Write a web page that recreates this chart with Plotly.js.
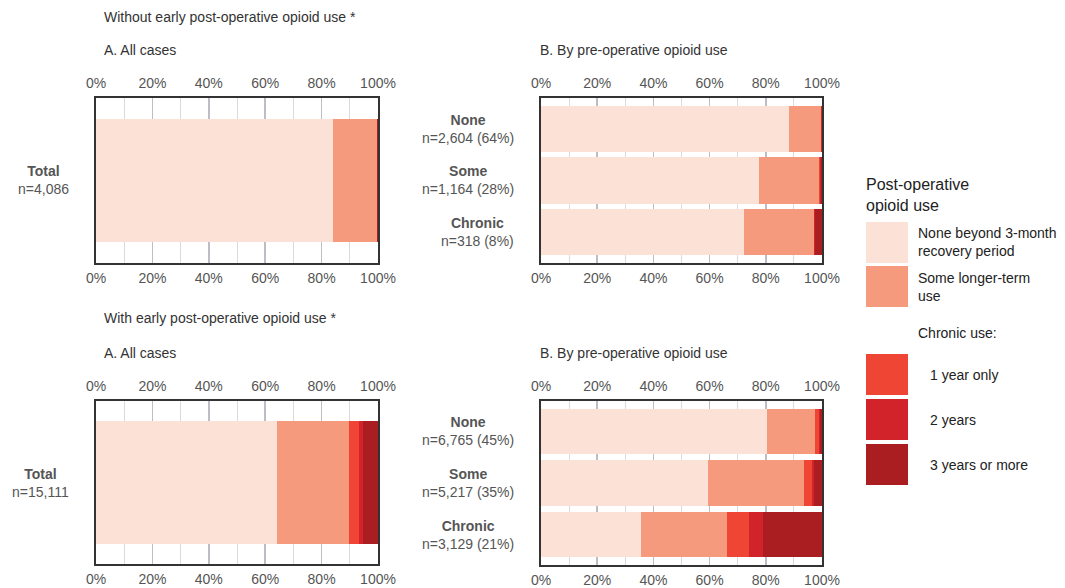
<!DOCTYPE html>
<html>
<head>
<meta charset="utf-8">
<script src="https://cdn.plot.ly/plotly-3.0.1.min.js"></script>
<style>
  html, body { margin: 0; padding: 0; background: #ffffff; }
  #chart { width: 1065px; height: 588px; }
</style>
</head>
<body>
<div id="chart"></div>
<script>
// Post-operative opioid use categories (stack order, left to right)
const categories = [
  'None beyond 3-month recovery period',
  'Some longer-term use',
  '1 year only',
  '2 years',
  '3 years or more'
];
const colors = ['#fce1d6', '#f59a7c', '#ef4535', '#d2222a', '#aa1e22'];

// Pre-operative opioid use groups
const groups = ['None', 'Some', 'Chronic'];

// Without early post-operative opioid use (percent of cases)
const withoutTotalN = '4,086';
const withoutTotal = [84.2, 15.3, 0.2, 0.1, 0.2];
const withoutGroupN = ['2,604 (64%)', '1,164 (28%)', '318 (8%)'];
const withoutNone = [88.3, 11.2, 0.3, 0.1, 0.1];
const withoutSome = [77.6, 21.3, 0.4, 0.2, 0.5];
const withoutChronic = [72.2, 24.8, 0.3, 0.3, 2.4];

// With early post-operative opioid use (percent of cases)
const withTotalN = '15,111';
const withTotal = [64.1, 25.6, 3.5, 1.5, 5.3];
const withGroupN = ['6,765 (45%)', '5,217 (35%)', '3,129 (21%)'];
const withNone = [80.4, 17.2, 1.2, 0.6, 0.6];
const withSome = [59.5, 34.0, 3.1, 0.7, 2.7];
const withChronic = [35.6, 30.6, 7.9, 4.9, 21.0];

const xTicks = [0, 20, 40, 60, 80, 100];
const xTickLabels = ['0%', '20%', '40%', '60%', '80%', '100%'];

// ---- page geometry (pixels) ----
const W = 1065, H = 588;
const px = x => x / W;
const py = y => 1 - y / H;
const FONT = 'Liberation Sans, Arial, sans-serif';

const panels = [
  { id: 1, x0: 96,  x1: 378, y0: 98,  y1: 263, cats: ['Total'], rows: [withoutTotal], yr: [-0.5, 0.5], bw: 0.75 },
  { id: 2, x0: 541, x1: 822, y0: 98,  y1: 263, cats: groups, rows: [withoutNone, withoutSome, withoutChronic], yr: [2.61, -0.61], bw: 0.9 },
  { id: 3, x0: 96,  x1: 378, y0: 401, y1: 564, cats: ['Total'], rows: [withTotal], yr: [-0.5, 0.5], bw: 0.75 },
  { id: 4, x0: 541, x1: 822, y0: 401, y1: 565, cats: groups, rows: [withNone, withSome, withChronic], yr: [2.59, -0.59], bw: 0.88 }
];

const tickFont = { family: FONT, size: 14, color: '#555555' };
const traces = [];
const layout = {
  width: W, height: H,
  margin: { l: 0, r: 0, t: 0, b: 0 },
  paper_bgcolor: '#ffffff',
  plot_bgcolor: '#ffffff',
  barmode: 'stack',
  showlegend: false,
  font: { family: FONT, color: '#333333' },
  shapes: [],
  annotations: []
};

panels.forEach(p => {
  const xa = 'x' + p.id, ya = 'y' + p.id;
  const topId = p.id + 4;
  layout['xaxis' + p.id] = {
    domain: [px(p.x0), px(p.x1)], anchor: ya, range: [0, 100],
    tickmode: 'array', tickvals: xTicks, ticktext: xTickLabels,
    tickfont: tickFont, ticks: '', ticklabelstandoff: 1,
    showgrid: true, gridcolor: '#bdbdc6', gridwidth: 1.6,
    minor: { dtick: 10, tick0: 0, showgrid: true, gridcolor: '#d9d9df', gridwidth: 1 },
    showline: true, linecolor: '#333333', linewidth: 2, mirror: true,
    zeroline: false, fixedrange: true
  };
  layout['xaxis' + topId] = {
    overlaying: xa, side: 'top', anchor: ya, range: [0, 100],
    tickmode: 'array', tickvals: xTicks, ticktext: xTickLabels,
    tickfont: tickFont, ticks: '', ticklabelstandoff: 6,
    showgrid: false, showline: false, zeroline: false, fixedrange: true
  };
  layout['yaxis' + p.id] = {
    domain: [py(p.y1), py(p.y0)], anchor: xa, type: 'category',
    categoryorder: 'array', categoryarray: p.cats, range: p.yr,
    showticklabels: false, ticks: '', showgrid: false, zeroline: false,
    showline: true, linecolor: '#333333', linewidth: 2, mirror: true,
    fixedrange: true
  };
  categories.forEach((name, k) => {
    traces.push({
      type: 'bar', orientation: 'h', name: name,
      x: p.rows.map(r => r[k]), y: p.cats,
      xaxis: xa, yaxis: ya, width: p.bw,
      marker: { color: colors[k], line: { width: 0 } },
      hovertemplate: '%{y}: %{x:.1f}%<extra>' + name + '</extra>'
    });
  });
  // carrier for the top tick-label axis
  traces.push({
    type: 'scatter', mode: 'markers', x: [null], y: [p.cats[0]],
    xaxis: 'x' + topId, yaxis: ya, hoverinfo: 'skip', showlegend: false
  });
});

// ---- row labels ----
function rowLabel(yaxisId, cat, name, n, xRight) {
  layout.annotations.push({
    xref: 'paper', yref: yaxisId, x: px(xRight), y: cat,
    xanchor: 'right', yanchor: 'middle', align: 'center', showarrow: false,
    text: '<b>' + name + '</b><br>n=' + n,
    font: { family: FONT, size: 14, color: '#555555' }
  });
}
rowLabel('y1', 'Total', 'Total', withoutTotalN, 71);
rowLabel('y3', 'Total', 'Total', withTotalN, 71);
groups.forEach((g, i) => {
  rowLabel('y2', g, g, withoutGroupN[i], 516);
  rowLabel('y4', g, g, withGroupN[i], 516);
});

// ---- section headings and legend text ----
function heading(text, x, y, size, color) {
  layout.annotations.push({
    xref: 'paper', yref: 'paper', x: px(x), y: py(y),
    xanchor: 'left', yanchor: 'middle', align: 'left', showarrow: false, text: text,
    font: { family: FONT, size: size, color: color }
  });
}
heading('Without early post-operative opioid use *', 102, 17, 14, '#333333');
heading('A. All cases', 102, 50, 14, '#333333');
heading('B. By pre-operative opioid use', 538, 50, 14, '#333333');
heading('With early post-operative opioid use *', 102, 318, 14, '#333333');
heading('A. All cases', 102, 353, 14, '#333333');
heading('B. By pre-operative opioid use', 538, 353, 14, '#333333');

// ---- legend ----
heading('Post-operative<br>opioid use', 864, 195, 16, '#222222');
const swatchTops = [222, 266, 354, 399, 444];
const legendText = [
  { text: 'None beyond 3-month<br>recovery period', x: 916 },
  { text: 'Some longer-term<br>use', x: 916 },
  { text: '1 year only', x: 928 },
  { text: '2 years', x: 928 },
  { text: '3 years or more', x: 928 }
];
swatchTops.forEach((t, k) => {
  layout.shapes.push({
    type: 'rect', xref: 'paper', yref: 'paper',
    x0: px(866), x1: px(908), y0: py(t + 41), y1: py(t),
    fillcolor: colors[k], line: { width: 0 }, layer: 'above'
  });
  heading(legendText[k].text, legendText[k].x, t + 20.5, 14, '#222222');
});
heading('Chronic use:', 916, 333, 14, '#222222');

Plotly.newPlot('chart', traces, layout, { displayModeBar: false, staticPlot: true });
</script>
</body>
</html>
